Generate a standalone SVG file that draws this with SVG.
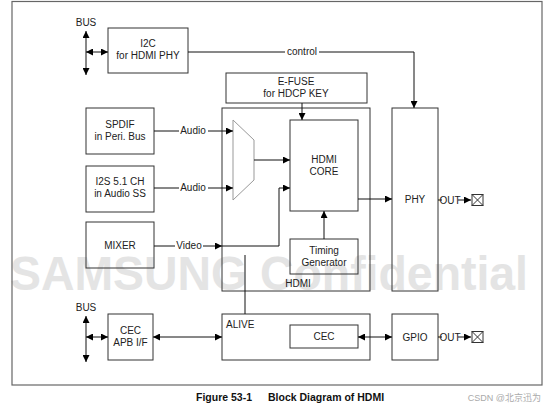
<svg xmlns="http://www.w3.org/2000/svg" width="546" height="408" viewBox="0 0 546 408">
<style>
.box{fill:none;stroke:#333;stroke-width:1}
.t{font-family:"Liberation Sans",Arial,sans-serif;font-size:10px;fill:#222;text-anchor:middle}
.tl{font-family:"Liberation Sans",Arial,sans-serif;font-size:10px;fill:#222}
.c{fill:none;stroke:#111;stroke-width:1}
.lb{fill:#fff}
</style>
<defs>
<marker id="ah" viewBox="0 0 8 8" refX="8" refY="4" markerWidth="7" markerHeight="7" markerUnits="userSpaceOnUse" orient="auto-start-reverse">
<path d="M0,0 L8,4 L0,8 z" fill="#000"/>
</marker>
</defs>
<rect x="0" y="0" width="546" height="408" fill="#fff"/>
<text x="10" y="290" font-family="'Liberation Sans',Arial,sans-serif" font-size="48" font-weight="bold" fill="#e4e4e4" textLength="518" lengthAdjust="spacingAndGlyphs">SAMSUNG Confidential</text>
<rect x="12" y="1.5" width="530" height="383.5" fill="none" stroke="#666" stroke-width="1.2"/>

<g id="bus-top"><text class="t" x="86" y="26">BUS</text></g>
<g id="i2c"><rect class="box" x="108" y="28" width="80" height="45"/><text class="t" x="148" y="47">I2C</text><text class="t" x="148" y="59">for HDMI PHY</text></g>
<g id="efuse"><rect class="box" x="226" y="73" width="141" height="30"/><text class="t" x="296" y="85">E-FUSE</text><text class="t" x="296" y="97">for HDCP KEY</text></g>
<g id="hdmi"><rect class="box" x="222" y="108" width="148" height="183"/><text class="t" x="298" y="287">HDMI</text></g>
<g id="spdif"><rect class="box" x="86" y="108" width="68" height="46"/><text class="t" x="120" y="128">SPDIF</text><text class="t" x="120" y="140">in Peri. Bus</text></g>
<g id="i2s"><rect class="box" x="86" y="166" width="68" height="46"/><text class="t" x="120" y="185">I2S 5.1 CH</text><text class="t" x="120" y="197">in Audio SS</text></g>
<g id="mixer"><rect class="box" x="86" y="222" width="68" height="46"/><text class="t" x="120" y="249">MIXER</text></g>
<g id="mux"><path d="M233,120 L254,140 L254,180 L233,200 Z" fill="none" stroke="#999" stroke-width="1"/></g>
<g id="core"><rect class="box" x="290" y="120" width="68" height="91"/><text class="t" x="324" y="163">HDMI</text><text class="t" x="324" y="175">CORE</text></g>
<g id="timing"><rect class="box" x="290" y="239" width="68" height="35"/><text class="t" x="324" y="254">Timing</text><text class="t" x="324" y="266">Generator</text></g>
<g id="phy"><rect class="box" x="392" y="108" width="46" height="183"/><text class="t" x="415" y="203">PHY</text></g>
<g id="bus-bot"><text class="t" x="86" y="311">BUS</text></g>
<g id="cecapb"><rect class="box" x="108" y="314" width="45" height="46"/><text class="t" x="130.5" y="334">CEC</text><text class="t" x="130.5" y="346">APB I/F</text></g>
<g id="alive"><rect class="box" x="222" y="314" width="148" height="46"/><text class="tl" x="226" y="328">ALIVE</text></g>
<g id="cec"><rect class="box" x="290" y="325" width="68" height="23"/><text class="t" x="324" y="340">CEC</text></g>
<g id="gpio"><rect class="box" x="392" y="314" width="46" height="46"/><text class="t" x="415" y="341">GPIO</text></g>
<g id="pad1"><rect x="472" y="194.5" width="11" height="11" fill="#fff" stroke="#333"/><path d="M472,194.5 L483,205.5 M483,194.5 L472,205.5" stroke="#333" fill="none"/></g>
<g id="pad2"><rect x="472" y="331.5" width="11" height="11" fill="#fff" stroke="#333"/><path d="M472,331.5 L483,342.5 M483,331.5 L472,342.5" stroke="#333" fill="none"/></g>

<g id="connectors">
<line class="c" x1="86" y1="31" x2="86" y2="75" marker-start="url(#ah)" marker-end="url(#ah)"/>
<line class="c" x1="86" y1="52" x2="108" y2="52" marker-start="url(#ah)" marker-end="url(#ah)"/>
<path class="c" d="M188,52 H414 V108" marker-end="url(#ah)"/>
<rect class="lb" x="285" y="46" width="34" height="11"/>
<text class="t" x="302" y="55">control</text>
<line class="c" x1="302" y1="103" x2="302" y2="120" marker-end="url(#ah)"/>
<line class="c" x1="154" y1="131" x2="233" y2="131" marker-end="url(#ah)"/>
<rect class="lb" x="179" y="125" width="29" height="11"/>
<text class="t" x="193" y="134">Audio</text>
<line class="c" x1="154" y1="188" x2="233" y2="188" marker-end="url(#ah)"/>
<rect class="lb" x="179" y="182" width="29" height="11"/>
<text class="t" x="193" y="191">Audio</text>
<line class="c" x1="154" y1="246" x2="222" y2="246" marker-end="url(#ah)"/>
<rect class="lb" x="175" y="240" width="28" height="11"/>
<text class="t" x="189" y="249">Video</text>
<path class="c" d="M222,246 H279 V188 H290" marker-end="url(#ah)"/>
<line class="c" x1="254" y1="160" x2="290" y2="160" marker-end="url(#ah)"/>
<line class="c" x1="358" y1="199" x2="392" y2="199" marker-end="url(#ah)"/>
<line class="c" x1="324" y1="239" x2="324" y2="211" marker-end="url(#ah)"/>
<line class="c" x1="245" y1="255" x2="245" y2="314" stroke="#555"/>
<line class="c" x1="86" y1="316" x2="86" y2="362" marker-start="url(#ah)" marker-end="url(#ah)"/>
<line class="c" x1="86" y1="337" x2="108" y2="337" marker-start="url(#ah)" marker-end="url(#ah)"/>
<line class="c" x1="153" y1="337" x2="222" y2="337" marker-start="url(#ah)" marker-end="url(#ah)"/>
<line class="c" x1="358" y1="337" x2="392" y2="337" marker-start="url(#ah)" marker-end="url(#ah)"/>
<line class="c" x1="438" y1="200" x2="471" y2="200" marker-end="url(#ah)"/>
<rect class="lb" x="442" y="195" width="16" height="10"/>
<text class="t" x="450" y="203.5">OUT</text>
<line class="c" x1="438" y1="337" x2="471" y2="337" marker-end="url(#ah)"/>
<rect class="lb" x="442" y="332" width="16" height="10"/>
<text class="t" x="450" y="340.5">OUT</text>
</g>

<text x="196" y="401" font-family="'Liberation Sans',Arial,sans-serif" font-size="10.5" font-weight="bold" fill="#111">Figure 53-1</text>
<text x="268" y="401" font-family="'Liberation Sans',Arial,sans-serif" font-size="10.5" font-weight="bold" fill="#111">Block Diagram of HDMI</text>
<text x="541" y="401" text-anchor="end" font-family="'Liberation Sans','Noto Sans CJK SC',sans-serif" font-size="9" fill="#aaa">CSDN @北京迅为</text>
</svg>
